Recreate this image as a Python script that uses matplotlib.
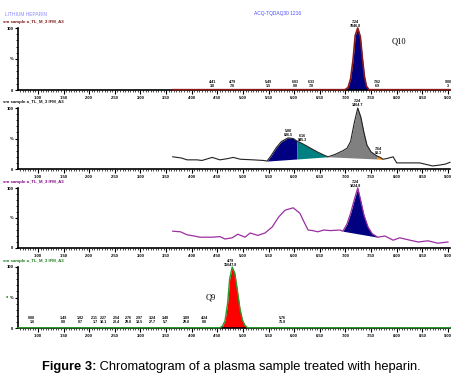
import numpy as np
import matplotlib
matplotlib.use("Agg")
import matplotlib.pyplot as plt

plt.rcParams['font.family'] = ['Liberation Sans', 'DejaVu Sans']

W, H = 463, 376
X_MIN, X_MAX = 0.61, 9.04

# --- datos (tiempo en min, intensidad en %) ---
# Panel 1: Q10
t1 = [3.63, 4.50, 5.50, 6.50, 6.99, 7.05, 7.10, 7.15, 7.19, 7.24, 7.29, 7.33,
      7.37, 7.41, 7.46, 8.00, 9.04]
y1 = [0.5, 0.5, 0.5, 0.5, 0.5, 4, 18, 50, 88, 100, 86, 52, 22, 6, 0.5, 0.5, 0.5]
p1_area = (6.99, 7.46)
p1_labels_t = [4.41, 4.79, 5.49, 6.03, 6.33, 7.62, 9.00]
p1_labels_v = ["3.8", "7.8", "1.5", "0.8", "7.8", "6.9", "3"]
p1_peak = ("7.24", "7846.8")

# Panel 2: TIC
t2 = [3.63, 3.80, 3.91, 4.10, 4.20, 4.40, 4.55, 4.70, 4.81, 4.95, 5.20, 5.40,
      5.47, 5.55, 5.65, 5.75, 5.88, 5.98, 6.05, 6.15, 6.30, 6.45, 6.60, 6.66,
      6.80, 6.95, 7.03, 7.10, 7.17, 7.24, 7.30, 7.36, 7.42, 7.50, 7.62, 7.68,
      7.73, 7.80, 7.93, 8.00, 8.20, 8.45, 8.55, 8.70, 8.80, 8.95, 9.04]
y2 = [20, 18, 15, 15, 14, 19, 15, 17, 19, 16, 15, 14,
      13, 22, 35, 45, 51, 50, 46, 42, 35, 28, 22, 20,
      24, 30, 34, 45, 75, 100, 85, 60, 39, 28, 21, 19,
      16, 17, 20, 10, 10, 10, 8, 5, 6, 8, 11]
# (inicio, fin, color, inicio de linea base, fin de linea base)
p2_areas = [(5.47, 6.05, "#000080", 5.47, 6.66), (6.05, 6.66, "#008080", 5.47, 6.66),
            (6.66, 7.62, "#808080", 6.66, 7.73), (7.62, 7.73, "#ff8c00", 6.66, 7.73)]
p2_peaks = [(5.88, 51, "5.88", "806.5"), (6.16, 42, "6.16", "845.3"),
            (7.24, 100, "7.24", "1464.7"), (7.64, 21, "7.64", "83.3")]

# Panel 3
t3 = [3.63, 3.78, 3.91, 4.05, 4.16, 4.40, 4.55, 4.65, 4.79, 4.90, 5.04, 5.14,
      5.29, 5.43, 5.57, 5.70, 5.82, 5.98, 6.11, 6.20, 6.27, 6.36, 6.46, 6.58,
      6.70, 6.89, 6.95, 7.03, 7.10, 7.17, 7.24, 7.30, 7.36, 7.44, 7.52, 7.63,
      7.77, 7.93, 8.06, 8.26, 8.42, 8.61, 8.80, 9.00]
y3 = [28, 27, 22, 20, 18, 18, 19, 15, 17, 23, 18, 25,
      21, 25, 35, 52, 63, 67, 58, 42, 30, 29, 27, 30,
      29, 30, 28, 40, 58, 80, 100, 78, 55, 35, 24, 18,
      20, 13, 17, 13, 10, 12, 8, 10]
p3_area = (6.95, 7.63)
p3_peak = ("7.24", "1024.8")

# Panel 4: Q9
t4 = [0.61, 2.00, 4.00, 4.55, 4.60, 4.65, 4.70, 4.74, 4.79, 4.84, 4.89, 4.94,
      4.99, 5.04, 5.09, 6.00, 9.04]
y4 = [0.5, 0.5, 0.5, 0.5, 3, 12, 40, 80, 100, 90, 62, 32, 13, 4, 0.5, 0.5, 0.5]
p4_area = (4.55, 5.09)
p4_peak = ("4.79", "15647.8")
p4_labels_t = [0.88, 1.49, 1.82, 2.11, 2.27, 2.54, 2.76, 2.97, 3.24, 3.48,
               3.89, 4.24, 5.76]
p4_labels_v = ["1.6", "0.8", "0.7", "1.7", "10.1", "20.4", "29.8", "18.5",
               "27.7", "5.7", "29.8", "0.8", "71.8"]

x_ticks = np.arange(1.0, 9.01, 0.5)

# --- posicion de paneles (pixeles: parte superior=100%, base=0%) ---
paneles = [(28, 90), (108, 169), (188, 248), (267, 328)]
cabeceras = [("sm sample a_TL_M_3 IFM_A3", "#7a1010"),
             ("sm sample a_TL_M_3 IFM_A3", "#111111"),
             ("sm sample a_TL_M_3 IFM_A3", "#800080"),
             ("sm sample a_TL_M_3 IFM_A3", "#1a7a1a")]

fig = plt.figure(figsize=(W / 100, H / 100), dpi=100)


def crear_eje(top, base):
    ax = fig.add_axes([18 / W, 1 - base / H, (450 - 18) / W, (base - top) / H])
    ax.set_xlim(X_MIN, X_MAX)
    ax.set_ylim(0, 100)
    ax.patch.set_alpha(0)
    for s in ['top', 'right']:
        ax.spines[s].set_visible(False)
    ax.spines['left'].set_linewidth(1.2)
    ax.spines['bottom'].set_linewidth(1.2)
    ax.set_xticks(x_ticks)
    ax.set_xticks(np.arange(0.65, 9.04, 0.05), minor=True)
    ax.set_xticklabels(["%.2f" % v for v in x_ticks], fontsize=3, fontweight='bold')
    ax.set_yticks([0, 50, 100])
    ax.set_yticks(np.arange(0, 101, 10), minor=True)
    ax.set_yticklabels(["0", "%", "100"], fontsize=3, fontweight='bold')
    ax.tick_params(axis='x', which='major', length=3, width=0.8, pad=1)
    ax.tick_params(axis='x', which='minor', length=1.5, width=0.5)
    ax.tick_params(axis='y', which='major', length=2.5, width=0.8, pad=1)
    ax.tick_params(axis='y', which='minor', length=1.5, width=0.6)
    return ax


def etiqueta(ax, t, y, a, b, dy=3):
    ax.annotate(a + "\n" + b, xy=(t, y), xytext=(0, dy), textcoords='offset points',
                ha='center', va='bottom', fontsize=2.6, fontweight='bold',
                linespacing=0.9, annotation_clip=False)


def relleno(ax, t, y, ini, fin, color, b_ini=None, b_fin=None):
    # linea base recta entre los extremos del grupo de picos
    b_ini = ini if b_ini is None else b_ini
    b_fin = fin if b_fin is None else b_fin
    tt = np.linspace(ini, fin, 150)
    yy = np.interp(tt, t, y)
    base = np.interp(tt, [b_ini, b_fin], np.interp([b_ini, b_fin], t, y))
    ax.fill_between(tt, base, yy, color=color, lw=0, zorder=2)


axs = [crear_eje(*p) for p in paneles]

# Panel 1
ax = axs[0]
relleno(ax, t1, y1, p1_area[0], p1_area[1], "#000080")
ax.plot(t1, y1, color="#8b1a1a", lw=1.2, zorder=3, clip_on=False)
for t, v in zip(p1_labels_t, p1_labels_v):
    etiqueta(ax, t, 1, "%.2f" % t, v, dy=1)
etiqueta(ax, 7.2, 100, p1_peak[0], p1_peak[1], dy=0)
ax.text(7.9, 78, "Q10", fontsize=6, family='Liberation Serif', ha='left', va='center')

# Panel 2
ax = axs[1]
for ini, fin, col, b0, b1 in p2_areas:
    relleno(ax, t2, y2, ini, fin, col, b0, b1)
ax.plot(t2, y2, color="#222222", lw=0.8, zorder=3, clip_on=False)
for t, y, a, b in p2_peaks:
    etiqueta(ax, t, y, a, b, dy=1)

# Panel 3
ax = axs[2]
relleno(ax, t3, y3, p3_area[0], p3_area[1], "#000080")
ax.plot(t3, y3, color="#9b2fa0", lw=0.9, zorder=3, clip_on=False)
etiqueta(ax, 7.2, 100, p3_peak[0], p3_peak[1], dy=0)

# Panel 4
ax = axs[3]
relleno(ax, t4, y4, p4_area[0], p4_area[1], "#ff0000")
ax.plot(t4, y4, color="#2a9a2a", lw=1.0, zorder=3, clip_on=False)
for t, v in zip(p4_labels_t, p4_labels_v):
    etiqueta(ax, t, 4, "%.2f" % t, v, dy=1)
etiqueta(ax, 4.76, 100, p4_peak[0], p4_peak[1], dy=0)
ax.text(4.38, 50, "Q9", fontsize=6, family='Liberation Serif', ha='center', va='center')
fig.text(7 / W, 1 - 297 / H, "\u2022", color="#2a9a2a", fontsize=5, ha='center', va='center')

# Cabeceras
fig.text(5 / W, 1 - 14 / H, "LITHIUM HEPARIN", color="#8a8aff", fontsize=3.5, va='center')
fig.text(278 / W, 1 - 14 / H, "ACQ-TQDAQ30 1216", color="#4a4aff", fontsize=3.5,
         ha='center', va='center')
for (top, base), (txt, col) in zip(paneles, cabeceras):
    fig.text(3 / W, 1 - (top - 6) / H, txt, color=col, fontsize=3.2,
             fontweight='bold', va='center')

# Pie de figura
t_fig = fig.text(42 / W, 1 - 367 / H, "Figure 3:", fontsize=9.3, fontweight='bold',
                 va='center', ha='left')
plt.annotate(" Chromatogram of a plasma sample treated with heparin.",
             xy=(1, 0.5), xycoords=t_fig, va='center', ha='left', fontsize=9.3,
             annotation_clip=False)

fig.savefig("out.png", dpi=100)
